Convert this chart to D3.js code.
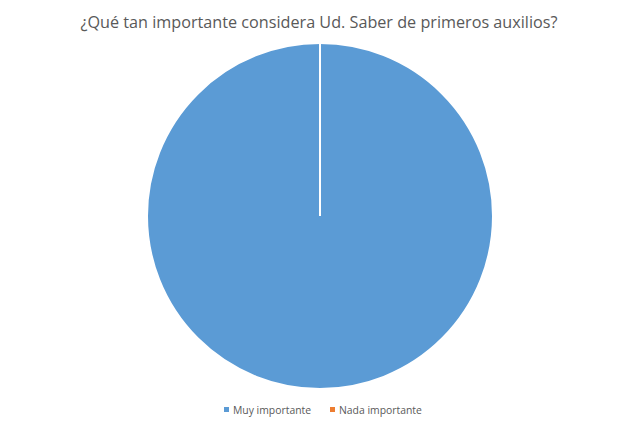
<!DOCTYPE html>
<html><head><meta charset="utf-8">
<script src="https://cdn.jsdelivr.net/npm/d3@7"></script>
<style>body{margin:0;background:#fff}</style>
</head><body>
<svg id="c" width="640" height="427"></svg>
<script>
const categories = ["Muy importante", "Nada importante"];
const values = [100, 0];
const colors = ["#5B9BD5", "#ED7D31"];
const title = "¿Qué tan importante considera Ud. Saber de primeros auxilios?";

const svg = d3.select("#c");
svg.append("rect").attr("width",640).attr("height",427).attr("fill","#fff");
svg.append("text").attr("x",319).attr("y",28).attr("text-anchor","middle")
  .attr("font-family","Open Sans, Liberation Sans, sans-serif").attr("font-size",16.2)
  .attr("fill","#595959").text(title);

const cx = 320, cy = 216, r = 173;
const pie = d3.pie().sort(null).value(d => d)(values);
const arc = d3.arc().innerRadius(0).outerRadius(r);
const g = svg.append("g").attr("transform",`translate(${cx},${cy})`);
g.selectAll("path").data(pie).enter().append("path")
  .attr("d", arc).attr("fill",(d,i)=>colors[i])
  .attr("stroke","#fff").attr("stroke-width",2);

const leg = svg.append("g").attr("font-family","Open Sans, Liberation Sans, sans-serif")
  .attr("font-size",10.4).attr("fill","#595959");
const lx = [224, 330];
categories.forEach((c,i)=>{
  leg.append("rect").attr("x",lx[i]).attr("y",407).attr("width",5).attr("height",5).attr("fill",colors[i]);
  leg.append("text").attr("x",lx[i]+9).attr("y",413.5).text(c);
});
</script>
</body></html>
